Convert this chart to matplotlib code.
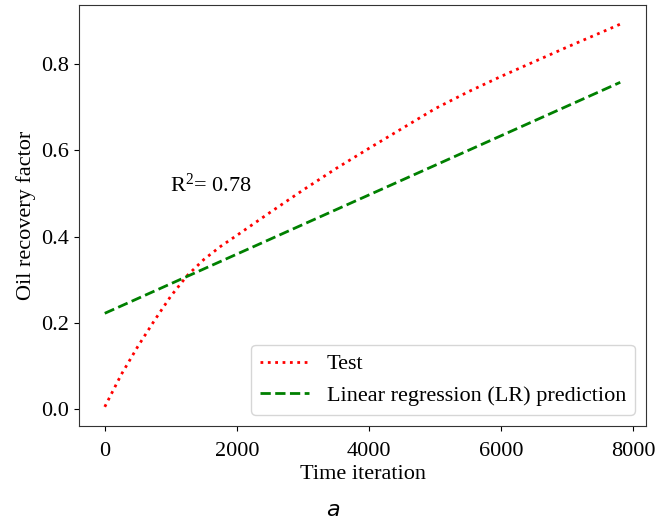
import numpy as np
import matplotlib
matplotlib.use('Agg')
import matplotlib.pyplot as plt

plt.rcParams['font.family'] = ['Liberation Serif', 'DejaVu Serif']
plt.rcParams['mathtext.fontset'] = 'custom'
plt.rcParams['mathtext.rm'] = 'Liberation Serif'
plt.rcParams['mathtext.it'] = 'Liberation Serif:italic'

# 数据
time_iter = [0, 250, 500, 750, 1000, 1250, 1500, 1750, 2000, 2500, 3000, 3500,
             4000, 4500, 5000, 5500, 6000, 6500, 7000, 7500, 7800]
test = [0.005, 0.080, 0.145, 0.205, 0.262, 0.310, 0.347, 0.377, 0.403, 0.456, 0.508,
        0.558, 0.605, 0.651, 0.697, 0.736, 0.772, 0.806, 0.840, 0.873, 0.893]
lr_x = [0, 7800]
lr_pred = [0.222, 0.758]

fig = plt.figure(figsize=(6.66, 5.27), dpi=100)
ax = fig.add_axes([0.1186, 0.1917, 0.8514, 0.7988])

ax.plot(time_iter, test, color='red', linestyle=':', linewidth=2, label='Test')
ax.plot(lr_x, lr_pred, color='green', linestyle='--', linewidth=2,
        label='Linear regression (LR) prediction')

ax.text(990, 0.519, r'R$^2$= 0.78', fontsize=16, va='center')

ax.set_xlabel('Time iteration', fontsize=16, labelpad=3)
ax.set_ylabel('Oil recovery factor', fontsize=16)
ax.set_xticks([0, 2000, 4000, 6000, 8000])
ax.set_yticks([0.0, 0.2, 0.4, 0.6, 0.8])
ax.tick_params(labelsize=16)
ax.tick_params(axis='x', pad=8)
for s in ax.spines.values():
    s.set_color('#333333')

ax.legend(loc='lower right', fontsize=16, handlelength=2.2)

fig.text(0.5, 0.032, 'a', fontsize=16, style='italic', family='DejaVu Sans',
         ha='center', va='center')

plt.savefig('out.png', dpi=100)
